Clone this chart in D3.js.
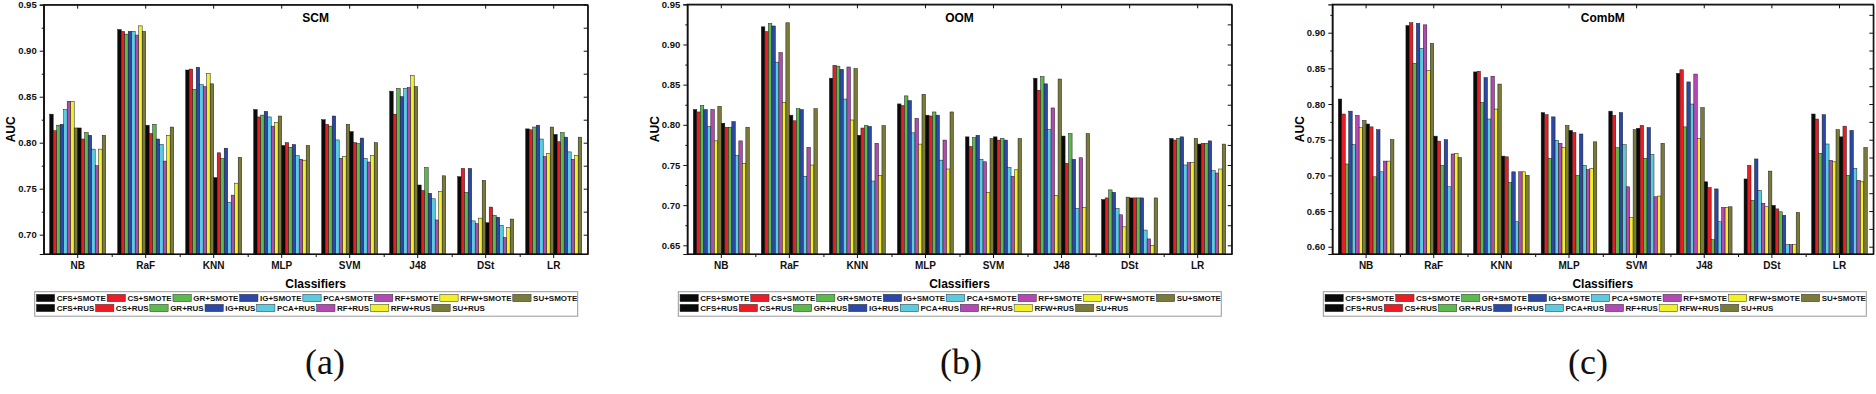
<!DOCTYPE html>
<html>
<head>
<meta charset="utf-8">
<script src="https://cdn.jsdelivr.net/npm/d3@7"></script>
<style>
  body { margin: 0; background: #fff; }
  svg { display: block; }
  text { font-family: "Liberation Sans", Arial, sans-serif; }
  text.tag { font-family: "Liberation Serif", "Times New Roman", serif; }
</style>
</head>
<body>
<svg id="fig" width="1876" height="394"></svg>
<script>
// categories on the x axis
const classifiers = ["NB", "RaF", "KNN", "MLP", "SVM", "J48", "DSt", "LR"]
// 16 feature selection + sampling combos, one bar each
const methods = ["CFS+SMOTE", "CS+SMOTE", "GR+SMOTE", "IG+SMOTE", "PCA+SMOTE", "RF+SMOTE", "RFW+SMOTE", "SU+SMOTE",
                 "CFS+RUS", "CS+RUS", "GR+RUS", "IG+RUS", "PCA+RUS", "RF+RUS", "RFW+RUS", "SU+RUS"]
const baseColors = ["#0a0a0a", "#ec1c24", "#5cb94c", "#2b48a6", "#5ccbe0", "#b448b4", "#f2f02a", "#7a7a3a"]

// AUC per classifier (rows) and method (columns)
const scmAUC = [
  [0.831, 0.813, 0.819, 0.820, 0.836, 0.845, 0.845, 0.816, 0.816, 0.804, 0.811, 0.808, 0.793, 0.775, 0.793, 0.808],
  [0.923, 0.921, 0.918, 0.921, 0.921, 0.917, 0.927, 0.921, 0.819, 0.810, 0.820, 0.804, 0.798, 0.780, 0.808, 0.817],
  [0.879, 0.880, 0.858, 0.882, 0.863, 0.861, 0.875, 0.864, 0.762, 0.789, 0.783, 0.794, 0.735, 0.743, 0.756, 0.784],
  [0.836, 0.828, 0.830, 0.834, 0.828, 0.818, 0.822, 0.829, 0.797, 0.800, 0.795, 0.798, 0.786, 0.782, 0.781, 0.797],
  [0.825, 0.820, 0.818, 0.829, 0.803, 0.783, 0.785, 0.820, 0.812, 0.800, 0.799, 0.805, 0.783, 0.779, 0.786, 0.800],
  [0.856, 0.831, 0.859, 0.850, 0.859, 0.860, 0.873, 0.861, 0.754, 0.748, 0.773, 0.745, 0.739, 0.716, 0.747, 0.764],
  [0.763, 0.772, 0.746, 0.772, 0.715, 0.712, 0.718, 0.759, 0.713, 0.730, 0.721, 0.719, 0.710, 0.697, 0.708, 0.717],
  [0.815, 0.814, 0.817, 0.819, 0.804, 0.785, 0.788, 0.817, 0.809, 0.801, 0.811, 0.806, 0.790, 0.782, 0.786, 0.806]
]
const oomAUC = [
  [0.819, 0.816, 0.824, 0.819, 0.798, 0.819, 0.780, 0.823, 0.802, 0.797, 0.797, 0.804, 0.762, 0.780, 0.752, 0.797],
  [0.922, 0.916, 0.926, 0.923, 0.878, 0.890, 0.828, 0.927, 0.812, 0.805, 0.820, 0.819, 0.736, 0.772, 0.750, 0.820],
  [0.858, 0.874, 0.873, 0.869, 0.832, 0.872, 0.806, 0.870, 0.787, 0.796, 0.799, 0.798, 0.730, 0.777, 0.737, 0.799],
  [0.826, 0.824, 0.836, 0.830, 0.790, 0.808, 0.776, 0.838, 0.812, 0.811, 0.816, 0.812, 0.756, 0.781, 0.745, 0.816],
  [0.785, 0.773, 0.784, 0.787, 0.757, 0.754, 0.716, 0.783, 0.785, 0.781, 0.783, 0.781, 0.747, 0.736, 0.744, 0.783],
  [0.858, 0.843, 0.860, 0.851, 0.794, 0.821, 0.712, 0.857, 0.786, 0.752, 0.789, 0.757, 0.696, 0.759, 0.697, 0.789],
  [0.707, 0.709, 0.719, 0.716, 0.696, 0.688, 0.673, 0.710, 0.709, 0.709, 0.709, 0.709, 0.669, 0.658, 0.650, 0.709],
  [0.783, 0.781, 0.783, 0.785, 0.750, 0.753, 0.753, 0.783, 0.776, 0.777, 0.777, 0.780, 0.743, 0.740, 0.745, 0.776]
]
const combmAUC = [
  [0.807, 0.786, 0.716, 0.790, 0.743, 0.784, 0.767, 0.777, 0.772, 0.768, 0.698, 0.764, 0.705, 0.720, 0.720, 0.750],
  [0.910, 0.914, 0.857, 0.913, 0.878, 0.911, 0.847, 0.885, 0.755, 0.748, 0.714, 0.750, 0.684, 0.730, 0.731, 0.725],
  [0.845, 0.846, 0.802, 0.837, 0.779, 0.839, 0.793, 0.828, 0.727, 0.726, 0.690, 0.705, 0.635, 0.705, 0.705, 0.700],
  [0.788, 0.785, 0.724, 0.782, 0.749, 0.745, 0.739, 0.770, 0.763, 0.760, 0.700, 0.758, 0.714, 0.708, 0.710, 0.747],
  [0.790, 0.784, 0.739, 0.788, 0.743, 0.684, 0.641, 0.764, 0.766, 0.770, 0.724, 0.767, 0.729, 0.670, 0.671, 0.745],
  [0.843, 0.848, 0.768, 0.831, 0.800, 0.842, 0.752, 0.795, 0.691, 0.683, 0.610, 0.681, 0.635, 0.655, 0.655, 0.656],
  [0.695, 0.714, 0.665, 0.723, 0.679, 0.661, 0.656, 0.706, 0.658, 0.653, 0.649, 0.644, 0.603, 0.603, 0.603, 0.648],
  [0.786, 0.779, 0.731, 0.785, 0.744, 0.721, 0.719, 0.764, 0.754, 0.769, 0.700, 0.763, 0.710, 0.693, 0.691, 0.739]
]

const scmTicks = [0.70, 0.75, 0.80, 0.85, 0.90, 0.95]
const oomTicks = [0.65, 0.70, 0.75, 0.80, 0.85, 0.90, 0.95]
const combmTicks = [0.60, 0.65, 0.70, 0.75, 0.80, 0.85, 0.90]

const methodColor = d3.scaleOrdinal().domain(methods).range(baseColors.concat(baseColors))

const panels = [
  { title: "SCM",   tag: "(a)", values: scmAUC,   ticks: scmTicks,   domain: [0.679, 0.95],  left: 43.7,   right: 587.7,  top: 4.7, tagX: 325 },
  { title: "OOM",   tag: "(b)", values: oomAUC,   ticks: oomTicks,   domain: [0.6392, 0.95], left: 687.3,  right: 1231.7, top: 4.3, tagX: 961 },
  { title: "CombM", tag: "(c)", values: combmAUC, ticks: combmTicks, domain: [0.5898, 0.9398], left: 1332.3, right: 1873.3, top: 4.3, tagX: 1588 }
]
const bottom = 254

const svg = d3.select("#fig")
svg.append("rect").attr("width", 1876).attr("height", 394).attr("fill", "#fff")

const drawPanel = (p) => {
  const g = svg.append("g")

  const x = d3.scaleBand().domain(classifiers).range([p.left, p.right])
  const xInner = d3.scaleBand().domain(methods).range([6, x.bandwidth() - 6])
  const y = d3.scaleLinear().domain(p.domain).range([bottom, p.top])

  // 绘制柱子
  const groups = g.selectAll(".grp").data(classifiers).enter()
    .append("g")
    .attr("class", "grp")
    .attr("transform", (d) => "translate(" + x(d) + ",0)")

  groups.each(function (c, ci) {
    d3.select(this).selectAll("rect")
      .data(p.values[ci].map((v, mi) => ({ m: methods[mi], v: v })))
      .enter()
      .append("rect")
      .attr("x", (d) => xInner(d.m))
      .attr("y", (d) => y(d.v))
      .attr("width", xInner.bandwidth())
      .attr("height", (d) => bottom - y(d.v))
      .attr("fill", (d) => methodColor(d.m))
      .attr("stroke", "#1a1a1a")
      .attr("stroke-width", 0.5)
  })

  // minor ticks for y
  const minor = d3.range(p.ticks.length - 1).map((i) => (p.ticks[i] + p.ticks[i + 1]) / 2)
  if (y(p.ticks[0] - 0.025) < bottom) minor.unshift(p.ticks[0] - 0.025)
  if (y(p.ticks[p.ticks.length - 1] + 0.025) > p.top) minor.push(p.ticks[p.ticks.length - 1] + 0.025)

  // left axis
  const yAxis = g.append("g")
    .attr("transform", "translate(" + p.left + ",0)")
    .call(d3.axisLeft(y).tickValues(p.ticks).tickFormat(d3.format(".2f")).tickSize(4).tickPadding(3))
  yAxis.selectAll("text").attr("font-size", 9.5).attr("font-weight", "bold").attr("fill", "#111")
  g.append("g")
    .attr("transform", "translate(" + p.left + ",0)")
    .call(d3.axisLeft(y).tickValues(minor).tickFormat("").tickSize(2).tickSizeOuter(0))

  // right axis, inward ticks
  g.append("g")
    .attr("transform", "translate(" + p.right + ",0)")
    .call(d3.axisRight(y).tickValues(p.ticks.concat(minor)).tickFormat("").tickSize(-4).tickSizeOuter(0))

  // bottom axis
  const xAxis = g.append("g")
    .attr("transform", "translate(0," + bottom + ")")
    .call(d3.axisBottom(x).tickSize(4).tickPadding(4).tickSizeOuter(0))
  xAxis.selectAll("text").attr("font-size", 10).attr("font-weight", "bold").attr("fill", "#111")
  g.append("g")
    .attr("transform", "translate(0," + bottom + ")")
    .call(d3.axisBottom(d3.scaleLinear().domain([0, 8]).range([p.left, p.right]))
      .tickValues(d3.range(1, 8)).tickFormat("").tickSize(3).tickSizeOuter(0))

  // top axis, inward ticks
  g.append("g")
    .attr("transform", "translate(0," + p.top + ")")
    .call(d3.axisTop(x).tickFormat("").tickSize(-4).tickSizeOuter(0))

  // frame
  g.append("rect")
    .attr("x", p.left).attr("y", p.top)
    .attr("width", p.right - p.left).attr("height", bottom - p.top)
    .attr("fill", "none").attr("stroke", "#111").attr("stroke-width", 1.2)

  g.selectAll(".domain").attr("stroke", "#111").attr("stroke-width", 1.2)
  g.selectAll(".tick line").attr("stroke", "#111").attr("stroke-width", 1)

  const mid = (p.left + p.right) / 2

  // panel title
  g.append("text")
    .attr("x", mid).attr("y", 21.5)
    .attr("text-anchor", "middle")
    .attr("font-size", 12).attr("font-weight", "bold")
    .text(p.title)

  // axis titles
  g.append("text")
    .attr("transform", "translate(" + (p.left - 33) + "," + ((bottom + p.top) / 2) + ") rotate(-90)")
    .attr("text-anchor", "middle")
    .attr("dy", "0.35em")
    .attr("font-size", 12).attr("font-weight", "bold")
    .text("AUC")

  g.append("text")
    .attr("x", mid).attr("y", 288)
    .attr("text-anchor", "middle")
    .attr("font-size", 12).attr("font-weight", "bold")
    .text("Classifiers")

  // legend: two rows, swatch followed by its label
  const lg = g.append("g").attr("transform", "translate(" + (p.left - 9) + ",291.7)")
  lg.append("rect")
    .attr("width", 543).attr("height", 24.5)
    .attr("fill", "#fff").attr("stroke", "#999").attr("stroke-width", 1)

  ;[methods.slice(0, 8), methods.slice(8)].forEach((row, ri) => {
    let cx = 1.7
    const ry = 2.6 + ri * 10
    row.forEach((m) => {
      lg.append("rect")
        .attr("x", cx).attr("y", ry)
        .attr("width", 18.3).attr("height", 7.4)
        .attr("fill", methodColor(m))
        .attr("stroke", "#333").attr("stroke-width", 0.5)
      const t = lg.append("text")
        .attr("x", cx + 20.3).attr("y", ry + 7)
        .attr("font-size", 8).attr("font-weight", "bold")
        .attr("fill", "#111")
        .text(m)
      cx += 20.3 + t.node().getComputedTextLength() + 1.3
    })
  })

  // sub-figure tag
  svg.append("text")
    .attr("class", "tag")
    .attr("x", p.tagX).attr("y", 374)
    .attr("text-anchor", "middle")
    .attr("font-size", 36)
    .attr("fill", "#111")
    .text(p.tag)
}

panels.forEach(drawPanel)
</script>
</body>
</html>
